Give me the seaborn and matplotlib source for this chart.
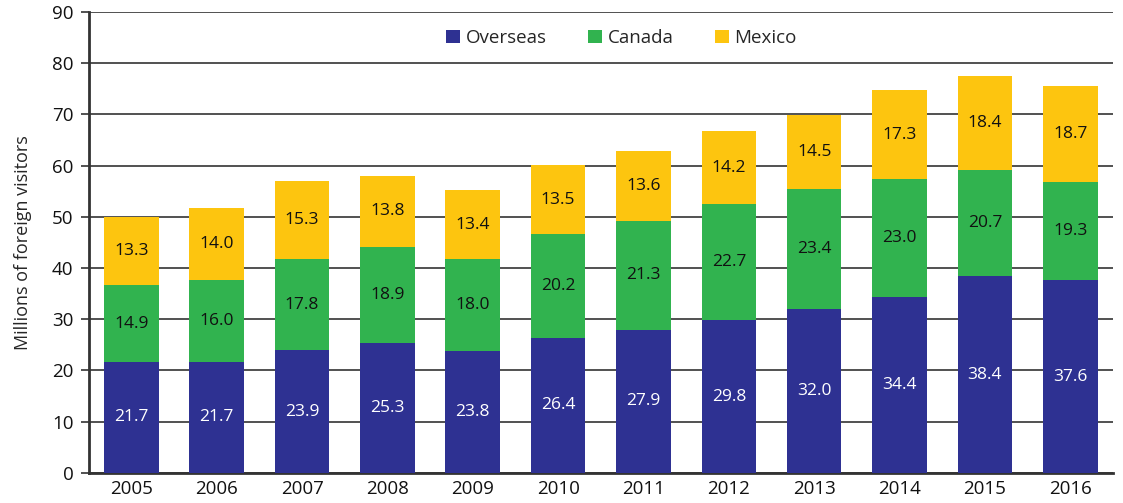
import numpy as np
import pandas as pd
import matplotlib
matplotlib.use('Agg')
import matplotlib.pyplot as plt
import seaborn as sns

years = ['2005', '2006', '2007', '2008', '2009', '2010', '2011', '2012', '2013', '2014', '2015', '2016']
overseas = [21.7, 21.7, 23.9, 25.3, 23.8, 26.4, 27.9, 29.8, 32.0, 34.4, 38.4, 37.6]
canada = [14.9, 16.0, 17.8, 18.9, 18.0, 20.2, 21.3, 22.7, 23.4, 23.0, 20.7, 19.3]
mexico = [13.3, 14.0, 15.3, 13.8, 13.4, 13.5, 13.6, 14.2, 14.5, 17.3, 18.4, 18.7]

sns.set_style('white')
plt.rcParams['font.family'] = ['Open Sans', 'DejaVu Sans']

df = pd.DataFrame({'year': years, 'Overseas': overseas, 'Canada': canada, 'Mexico': mexico})
colors = {'Overseas': '#2E3192', 'Canada': '#31B34F', 'Mexico': '#FDC50F'}
text_colors = {'Overseas': 'white', 'Canada': '#111111', 'Mexico': '#111111'}

fig, ax = plt.subplots(figsize=(11.23, 5.03), dpi=100)
fig.subplots_adjust(left=0.079, right=0.991, top=0.976, bottom=0.06)

bottom = np.zeros(len(years))
for name in ['Overseas', 'Canada', 'Mexico']:
    sns.barplot(data=df, x='year', y=name, color=colors[name], bottom=bottom, saturation=1,
                width=0.64, ax=ax, label=name, zorder=3, linewidth=0)
    cont = ax.containers[-1]
    ax.bar_label(cont, labels=[f'{v:.1f}' for v in df[name]], label_type='center',
                 color=text_colors[name], fontsize=12.5)
    bottom = bottom + df[name].values

ax.set_ylim(0, 90)
ax.set_xlim(-0.5, 11.5)
ax.set_yticks(range(0, 91, 10))
ax.yaxis.grid(True, color='#333333', linewidth=1.2, zorder=0)
ax.set_axisbelow(True)
ax.set_xlabel('')
ax.set_ylabel('Millions of foreign visitors', fontsize=13, labelpad=14)
ax.tick_params(axis='both', labelsize=13.5, colors='#111111')
ax.tick_params(axis='y', left=True, length=6, width=1.2, color='#333333', pad=5)
ax.tick_params(axis='x', bottom=False, pad=2)
for s in ['top', 'right']:
    ax.spines[s].set_visible(False)
for s in ['left', 'bottom']:
    ax.spines[s].set_color('#333333')
    ax.spines[s].set_linewidth(2)

ax.legend(loc='upper center', bbox_to_anchor=(0.52, 1.0), ncol=3, frameon=False,
          fontsize=13.5, handlelength=0.75, handleheight=0.75, columnspacing=2.2,
          handletextpad=0.3)

plt.savefig('out.png', dpi=100)
